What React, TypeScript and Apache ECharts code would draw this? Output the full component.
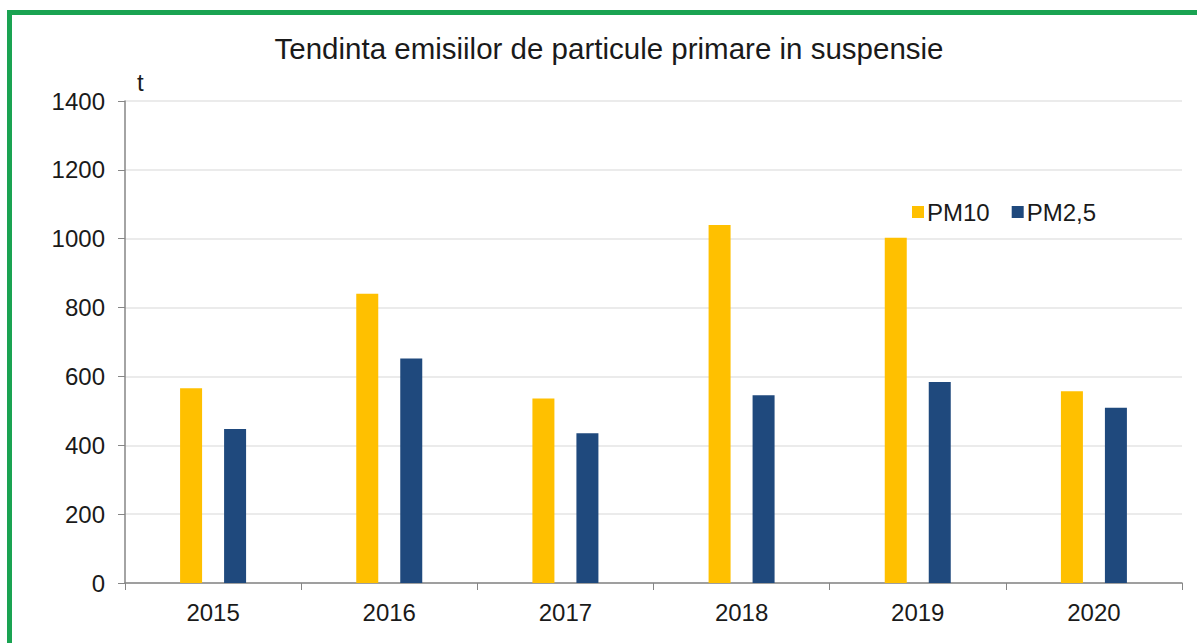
import React, { useEffect, useRef } from "react";
import * as echarts from "echarts";

const title = "Tendinta emisiilor de particule primare in suspensie";
const years = ["2015", "2016", "2017", "2018", "2019", "2020"];
const pm10 = [566, 840, 536, 1040, 1003, 557];
const pm25 = [447, 652, 435, 545, 584, 509];
const seriesNames = ["PM10", "PM2,5"];
const yTicks = { min: 0, max: 1400, interval: 200 };
const unitLabel = "t";

const FONT = "'Liberation Sans', Arial, sans-serif";

export default function App() {
  const ref = useRef<HTMLDivElement>(null);
  useEffect(() => {
    if (!ref.current) return;
    const chart = echarts.init(ref.current, undefined, { renderer: "svg" });
    chart.setOption({
      animation: false,
      backgroundColor: "transparent",
      textStyle: { fontFamily: FONT },
      graphic: [
        {
          type: "text",
          x: 609,
          y: 48,
          style: {
            text: title,
            fontFamily: FONT,
            fontSize: 29.5,
            fill: "#1a1a1a",
            align: "center",
            verticalAlign: "middle",
          },
        },
      ],
      legend: {
        left: 907,
        top: 195,
        icon: "rect",
        itemWidth: 12,
        itemHeight: 12,
        itemGap: 22,
        textStyle: { fontSize: 24, color: "#1a1a1a", fontFamily: FONT, padding: [0, 0, 0, -2] },
        data: seriesNames,
      },
      grid: { left: 125, right: 15, top: 101, bottom: 60, containLabel: false },
      xAxis: {
        type: "category",
        data: years,
        axisLine: { lineStyle: { color: "#868686", width: 1.5 } },
        axisTick: { show: true, length: 7, lineStyle: { color: "#868686" } },
        axisLabel: { fontSize: 24, color: "#1a1a1a", margin: 17, fontFamily: FONT },
      },
      yAxis: {
        type: "value",
        min: yTicks.min,
        max: yTicks.max,
        interval: yTicks.interval,
        name: unitLabel,
        nameLocation: "end",
        nameGap: 7,
        nameTextStyle: { fontSize: 24, color: "#1a1a1a", align: "left", padding: [0, 0, 0, 12], fontFamily: FONT },
        axisLine: { show: true, lineStyle: { color: "#868686", width: 1.5 } },
        axisTick: { show: true, length: 7, lineStyle: { color: "#868686" } },
        axisLabel: {
          fontSize: 24,
          color: "#1a1a1a",
          margin: 20,
          fontFamily: FONT,
          formatter: (v: number) => String(v),
        },
        splitLine: { lineStyle: { color: "#e4e4e4", width: 1.5 } },
      },
      series: [
        {
          name: seriesNames[0],
          type: "bar",
          data: pm10,
          barWidth: 22,
          barGap: "100%",
          itemStyle: { color: "#FFC000" },
        },
        {
          name: seriesNames[1],
          type: "bar",
          data: pm25,
          barWidth: 22,
          barGap: "100%",
          itemStyle: { color: "#1F497D" },
        },
      ],
    });
    return () => chart.dispose();
  }, []);

  return (
    <div
      style={{
        position: "fixed",
        left: 0,
        top: 0,
        width: 1197,
        height: 643,
        background: "#ffffff",
        overflow: "hidden",
      }}
    >
      <div
        style={{
          position: "absolute",
          left: 7,
          top: 10,
          width: 1300,
          height: 800,
          borderLeft: "5px solid #1aa352",
          borderTop: "5px solid #1aa352",
          boxSizing: "border-box",
        }}
      />
      <div ref={ref} style={{ position: "absolute", left: 0, top: 0, width: 1197, height: 643 }} />
    </div>
  );
}
